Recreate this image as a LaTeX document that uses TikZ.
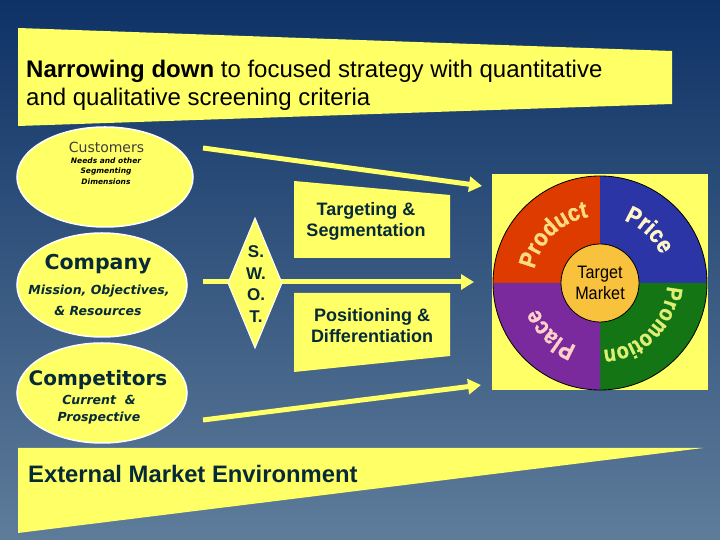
\documentclass[tikz,border=0pt]{standalone}
\usepackage{fontspec}
\setmainfont{Liberation Sans}
\newfontfamily\dvs{DejaVu Sans}
\newfontfamily\wheelfam[FakeStretch=0.88, BoldFeatures={FakeBold=1.2}]{Liberation Sans}
\newfontfamily\narrowfam[FakeStretch=0.9]{Liberation Sans}
\usetikzlibrary{arrows.meta,decorations.text,shapes.geometric}
\definecolor{bgtop}{RGB}{14,50,102}
\definecolor{bgbot}{RGB}{94,124,154}
\definecolor{hl}{RGB}{255,255,102}
\definecolor{dk}{RGB}{6,42,56}
\definecolor{custc}{RGB}{60,60,60}
\definecolor{wred}{RGB}{221,59,0}
\definecolor{wblue}{RGB}{43,53,166}
\definecolor{wpurple}{RGB}{123,42,158}
\definecolor{wgreen}{RGB}{20,117,20}
\definecolor{winner}{RGB}{249,194,60}
\definecolor{tprod}{RGB}{255,220,130}
\definecolor{tprice}{RGB}{255,245,200}
\definecolor{tpromo}{RGB}{222,240,115}
\definecolor{tplace}{RGB}{255,208,200}
\newcommand\wheelfont{\wheelfam\bfseries\fontsize{24}{24}\selectfont}
\newcommand\promofont{\wheelfam\bfseries\fontsize{22.5}{22.5}\selectfont}
\tikzset{
  oval/.style={ellipse, fill=hl, draw=white, line width=1.5pt, inner sep=0pt},
  arr/.style={draw=hl, line width=5pt, -{Triangle[length=13pt,width=15pt]}},
  box/.style={fill=hl},
  txt/.style={text=dk, inner sep=0pt, anchor=base},
  wheeltext/.style={decorate, decoration={text along path, text align=center, text color=#1}},
}
\begin{document}
\begin{tikzpicture}[x=1pt,y=1pt]
\useasboundingbox (0,0) rectangle (720,540);
\shade[top color=bgtop,bottom color=bgbot] (0,0) rectangle (720,540);

% top banner
\fill[box] (18,512) -- (672,489) -- (672,436) -- (18,414) -- cycle;
\node[anchor=base west, inner sep=0pt, font=\fontsize{24}{28}\selectfont] (ban1) at (26,462) {\textbf{Narrowing down} to focused strategy with quantitative};
\node[anchor=base west, inner sep=0pt, font=\fontsize{24}{28}\selectfont] (ban2) at (26,434) {and qualitative screening criteria};

% bottom banner
\fill[box] (18,92) -- (703,92) -- (18,7) -- cycle;
\node[anchor=base west, inner sep=0pt, text=dk, font=\bfseries\fontsize{23.8}{28}\selectfont] (ext) at (28,57) {External Market Environment};

% connectors
\coordinate (a1s) at (203,392); \coordinate (a1e) at (482,354);
\coordinate (a2s) at (203,258); \coordinate (a2e) at (474,258);
\coordinate (a3s) at (203,120); \coordinate (a3e) at (481,155);
\draw[arr] (a1s) -- (a1e);
\draw[arr] (a2s) -- (a2e);
\draw[arr] (a3s) -- (a3e);

% ellipses
\node[oval, minimum width=176pt, minimum height=100pt] (cust) at (105,363) {};
\node[oval, minimum width=170pt, minimum height=104pt] (comp) at (102,255) {};
\node[oval, minimum width=170pt, minimum height=100pt] (compet) at (102,147) {};

\node[txt, text=custc, font=\dvs\fontsize{14}{14}\selectfont] (custt) at (106.5,387) {Customers};
\node[txt, text=black, font=\dvs\bfseries\itshape\fontsize{7.5}{7.5}\selectfont] (cust1) at (106,376) {Needs and other};
\node[txt, text=black, font=\dvs\bfseries\itshape\fontsize{7.5}{7.5}\selectfont] (cust2) at (106,366) {Segmenting};
\node[txt, text=black, font=\dvs\bfseries\itshape\fontsize{7.5}{7.5}\selectfont] (cust3) at (106,355) {Dimensions};

\node[txt, font=\dvs\bfseries\fontsize{20.5}{20}\selectfont] (compt) at (98,270) {Company};
\node[txt, font=\dvs\bfseries\itshape\fontsize{12.5}{12.5}\selectfont] (comp1) at (99,245) {Mission, Objectives,};
\node[txt, font=\dvs\bfseries\itshape\fontsize{12.5}{12.5}\selectfont] (comp2) at (98,224.5) {\& Resources};

\node[txt, font=\dvs\bfseries\fontsize{20}{20}\selectfont] (competl) at (98,154) {Competitors};
\node[txt, font=\dvs\bfseries\itshape\fontsize{12.5}{12.5}\selectfont] (compet1) at (99,135) {Current \ \&};
\node[txt, font=\dvs\bfseries\itshape\fontsize{12.5}{12.5}\selectfont] (compet2) at (99,118) {Prospective};

% SWOT diamond
\fill[hl] (255,322) -- (282,257) -- (255,192) -- (228,257) -- cycle;
\draw[white, line width=1pt] (255,322) -- (282,257) -- (255,192) -- (228,257) -- cycle;
\node[inner sep=0pt, align=center, text=dk, font=\bfseries\fontsize{17}{21.7}\selectfont] (swot) at (256,256) {S.\\W.\\O.\\T.};

% targeting / positioning boxes
\fill[box] (294,359) -- (450,345) -- (450,282) -- (294,282) -- cycle;
\node[txt, font=\bfseries\fontsize{18}{18}\selectfont] (targ1) at (366,324) {Targeting \&};
\node[txt, font=\bfseries\fontsize{18}{18}\selectfont] (targ2) at (366,303) {Segmentation};
\fill[box] (294,247) -- (450,247) -- (450,184) -- (294,168) -- cycle;
\node[txt, font=\bfseries\fontsize{18}{18}\selectfont] (pos1) at (372,218) {Positioning \&};
\node[txt, font=\bfseries\fontsize{18}{18}\selectfont] (pos2) at (372,197) {Differentiation};

% 4P wheel
\fill[box] (492,150) rectangle (708,366);
\coordinate (wc) at (600,257);
\fill[wred] (wc) -- ++(180:107) arc[start angle=180, end angle=90, radius=107] -- cycle;
\fill[wblue] (wc) -- ++(90:107) arc[start angle=90, end angle=0, radius=107] -- cycle;
\fill[wgreen] (wc) -- ++(0:107) arc[start angle=0, end angle=-90, radius=107] -- cycle;
\fill[wpurple] (wc) -- ++(270:107) arc[start angle=270, end angle=180, radius=107] -- cycle;
\draw[black, line width=0.8pt] (wc) circle[radius=107];

\path[wheeltext=tprod, decoration={text={|\wheelfont|Product}}] (wc) ++(194:67) arc[start angle=194, end angle=74, radius=67];
\path[wheeltext=tprice, decoration={text={|\wheelfont|Price}}] (wc) ++(107:67) arc[start angle=107, end angle=-13, radius=67];
\path[wheeltext=tpromo, decoration={text={|\promofont|Promotion}}] (wc) ++(22:67) arc[start angle=22, end angle=-112, radius=67];
\path[wheeltext=tplace, decoration={text={|\wheelfont|Place}}] (wc) ++(286:67) arc[start angle=286, end angle=166, radius=67];

\node[circle, fill=winner, draw=black, line width=0.8pt, minimum size=78pt, inner sep=0pt, align=center, font=\narrowfam\fontsize{18}{20.5}\selectfont] (tm) at (wc) {Target\\Market};
\end{tikzpicture}
\end{document}
